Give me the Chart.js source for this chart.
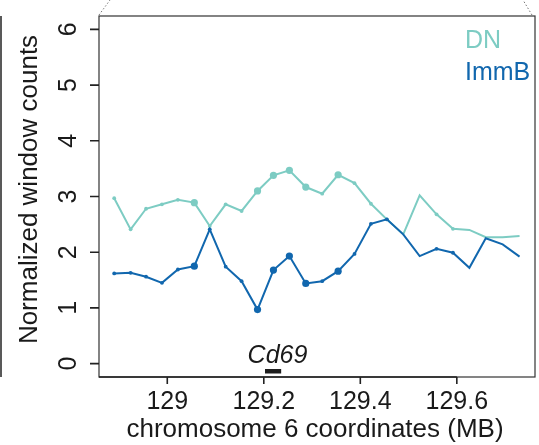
<!DOCTYPE html>
<html>
<head>
<meta charset="utf-8">
<script src="https://cdn.jsdelivr.net/npm/chart.js@4.4.0/dist/chart.umd.min.js"></script>
<style>
  html, body { margin: 0; padding: 0; background: #fff; }
  #wrap { width: 539px; height: 445px; }
</style>
</head>
<body>
<div id="wrap"><canvas id="chart" width="539" height="445"></canvas></div>
<script>
// window centres on chr6 (MB)
const windowPos = [128.890, 128.924, 128.956, 128.989, 129.022, 129.056, 129.088, 129.121, 129.154,
  129.187, 129.220, 129.253, 129.287, 129.321, 129.354, 129.388, 129.422, 129.455, 129.489,
  129.523, 129.558, 129.592, 129.626, 129.660, 129.695, 129.730];
const dnCounts = [2.97, 2.41, 2.78, 2.86, 2.94, 2.89, 2.47, 2.86, 2.74, 3.10, 3.38, 3.47, 3.17,
  3.05, 3.39, 3.24, 2.87, 2.59, 2.32, 3.02, 2.68, 2.42, 2.40, 2.27, 2.27, 2.29];
const immbCounts = [1.62, 1.63, 1.56, 1.45, 1.69, 1.75, 2.41, 1.74, 1.48, 0.97, 1.68, 1.93, 1.44,
  1.48, 1.66, 1.97, 2.51, 2.59, 2.32, 1.93, 2.06, 1.99, 1.72, 2.25, 2.14, 1.92];
const xTicks = [129, 129.2, 129.4, 129.6];
const yTicks = [0, 1, 2, 3, 4, 5, 6];
const seriesNames = ['DN', 'ImmB'];
const geneName = 'Cd69';
const geneSpan = [129.2025, 129.236];

// marker styling
const bigDots = [5, 9, 10, 11, 12, 14];
const noDots = [18, 19, 22, 23, 24, 25];
const colors = ['#7dccc3', '#1167ae'];
const FONT = '"Liberation Sans", Arial, sans-serif';
const INK = '#1a1a1a';

function dotRadius(c) {
  if (bigDots.includes(c.dataIndex)) return 3.6;
  if (noDots.includes(c.dataIndex)) return 0;
  return 1.9;
}

function toPoints(ys) {
  return ys.map((v, i) => ({ x: windowPos[i], y: v }));
}

const frame = {
  id: 'frame',
  afterDraw(chart) {
    const { ctx, chartArea: a, scales: { x, y } } = chart;
    ctx.save();

    // zoom callout lines
    ctx.strokeStyle = '#777';
    ctx.lineWidth = 1;
    ctx.setLineDash([1.5, 2]);
    ctx.beginPath();
    ctx.moveTo(a.left, a.top - 1); ctx.lineTo(a.left + 11, 0);
    ctx.moveTo(a.right - 3, a.top - 1); ctx.lineTo(523, 0);
    ctx.stroke();
    ctx.setLineDash([]);

    // left bracket line
    ctx.strokeStyle = '#222';
    ctx.lineWidth = 1.5;
    ctx.beginPath();
    ctx.moveTo(1, a.top); ctx.lineTo(1, a.bottom);
    ctx.stroke();

    // box
    ctx.strokeStyle = '#333';
    ctx.lineWidth = 1.2;
    ctx.strokeRect(a.left, a.top, a.right - a.left, a.bottom - a.top);

    // x axis
    ctx.strokeStyle = '#222';
    ctx.lineWidth = 1.6;
    ctx.beginPath();
    ctx.moveTo(a.left, a.bottom);
    ctx.lineTo(x.getPixelForValue(xTicks[xTicks.length - 1]), a.bottom);
    xTicks.forEach(v => {
      const px = x.getPixelForValue(v);
      ctx.moveTo(px, a.bottom);
      ctx.lineTo(px, a.bottom + 7);
    });
    // y ticks
    yTicks.forEach(v => {
      const py = y.getPixelForValue(v);
      ctx.moveTo(a.left - 9, py);
      ctx.lineTo(a.left, py);
    });
    ctx.stroke();

    ctx.fillStyle = INK;
    ctx.font = '25px ' + FONT;
    ctx.textAlign = 'center';
    ctx.textBaseline = 'alphabetic';
    xTicks.forEach(v => ctx.fillText(String(v), x.getPixelForValue(v), 409));

    yTicks.forEach(v => {
      ctx.save();
      ctx.translate(76, y.getPixelForValue(v));
      ctx.rotate(-Math.PI / 2);
      ctx.fillText(String(v), 0, 0);
      ctx.restore();
    });

    // axis titles
    ctx.font = '26px ' + FONT;
    ctx.fillText('chromosome 6 coordinates (MB)', 315, 437);
    ctx.save();
    ctx.translate(37, 189.5);
    ctx.rotate(-Math.PI / 2);
    ctx.fillText('Normalized window counts', 0, 0);
    ctx.restore();

    // legend
    ctx.font = '25px ' + FONT;
    ctx.textAlign = 'left';
    ctx.fillStyle = colors[0];
    ctx.fillText(seriesNames[0], 465, 47.5);
    ctx.fillStyle = colors[1];
    ctx.fillText(seriesNames[1], 465, 79.5);

    // gene
    const g0 = x.getPixelForValue(geneSpan[0]);
    const g1 = x.getPixelForValue(geneSpan[1]);
    ctx.fillStyle = '#1e1e1e';
    ctx.fillRect(g0, 369, g1 - g0, 4.5);
    ctx.font = 'italic 25px ' + FONT;
    ctx.textAlign = 'center';
    ctx.fillStyle = INK;
    ctx.fillText(geneName, 277.5, 363);

    ctx.restore();
  }
};

new Chart(document.getElementById('chart'), {
  type: 'line',
  data: {
    datasets: [
      {
        label: seriesNames[1],
        data: toPoints(immbCounts),
        borderColor: colors[1],
        backgroundColor: colors[1],
        borderWidth: 2,
        pointRadius: dotRadius,
        pointBorderWidth: 0,
        tension: 0,
        order: 0
      },
      {
        label: seriesNames[0],
        data: toPoints(dnCounts),
        borderColor: colors[0],
        backgroundColor: colors[0],
        borderWidth: 2,
        pointRadius: dotRadius,
        pointBorderWidth: 0,
        tension: 0,
        order: 1
      }
    ]
  },
  options: {
    responsive: false,
    animation: false,
    devicePixelRatio: 1,
    layout: { padding: { left: 99, top: 16, right: 1, bottom: 68 } },
    plugins: { legend: { display: false }, tooltip: { enabled: false } },
    scales: {
      x: {
        type: 'linear',
        min: 128.8585,
        max: 129.762,
        display: false
      },
      y: {
        min: -0.24,
        max: 6.24,
        display: false
      }
    }
  },
  plugins: [frame]
});
</script>
</body>
</html>
